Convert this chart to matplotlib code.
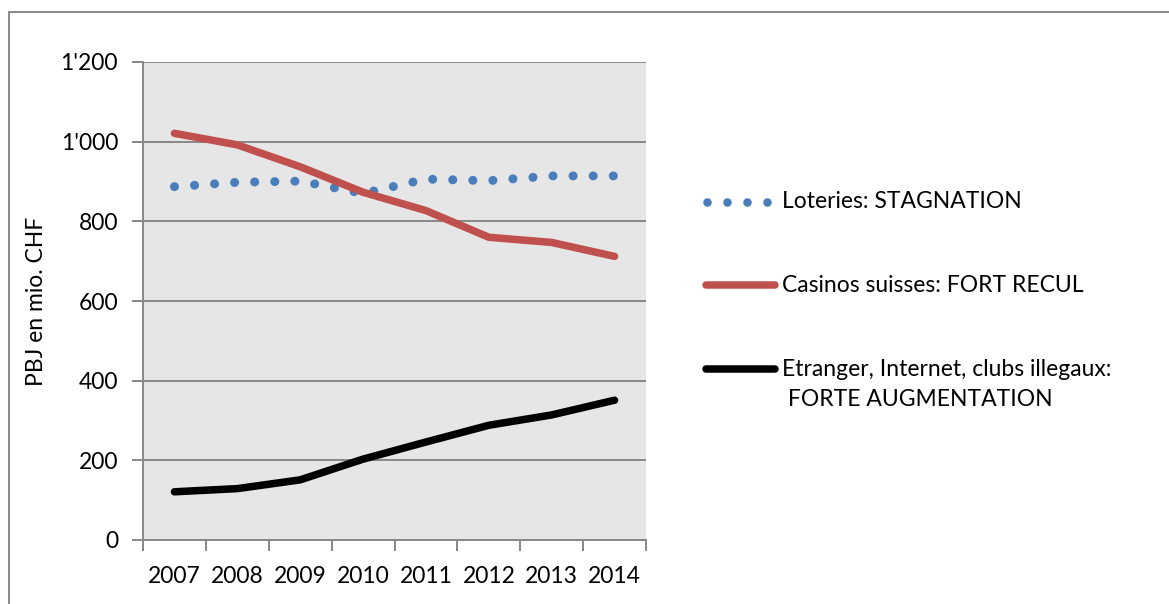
import matplotlib
matplotlib.use("Agg")
import matplotlib.pyplot as plt
from matplotlib.lines import Line2D

years = ["2007", "2008", "2009", "2010", "2011", "2012", "2013", "2014"]
loteries = [887, 898, 901, 870, 906, 902, 914, 914]
casinos = [1021, 992, 937, 873, 827, 760, 747, 712]
etranger = [121, 129, 151, 203, 246, 288, 314, 351]
y_ticks = [0, 200, 400, 600, 800, 1000, 1200]
y_tick_labels = ["0", "200", "400", "600", "800", "1'000", "1'200"]
labels = ["Loteries: STAGNATION", "Casinos suisses: FORT RECUL",
          "Etranger, Internet, clubs illegaux:\n FORTE AUGMENTATION"]
ylabel = "PBJ en mio. CHF"
colors = ["#4a7ebb", "#c0504d", "#000000"]

plt.rcParams['font.family'] = ['Lato', 'DejaVu Sans']
W, H, DPI = 1169, 604, 100
FS = 16.5
fig = plt.figure(figsize=(W / DPI, H / DPI), dpi=DPI)
px = 72 / DPI

ax = fig.add_axes([143 / W, 1 - 540 / H, 503 / W, (540 - 62) / H])
ax.set_facecolor("#e6e6e6")
grid_c = "#8a8a8a"

x = list(range(len(years)))
ax.plot(x, loteries, color=colors[0], lw=9 * px, linestyle=(0, (0.01, 20 / 9)),
        dash_capstyle="round", zorder=3)
ax.plot(x, casinos, color=colors[1], lw=7.5 * px, solid_capstyle="round",
        solid_joinstyle="round", zorder=3)
ax.plot(x, etranger, color=colors[2], lw=7.5 * px, solid_capstyle="round",
        solid_joinstyle="round", zorder=3)

ax.set_xlim(-0.5, len(years) - 0.5)
ax.set_ylim(0, 1200)
ax.set_yticks(y_ticks)
ax.set_yticklabels(y_tick_labels)
ax.yaxis.grid(True, color=grid_c, lw=2 * px)
ax.set_axisbelow(True)

ax.set_xticks(x)
ax.set_xticklabels(years)
ax.set_xticks([i - 0.5 for i in range(len(years) + 1)], minor=True)
ax.tick_params(axis="x", which="major", length=0, pad=19, labelsize=FS)
ax.tick_params(axis="x", which="minor", length=8, width=2 * px, color=grid_c)
ax.tick_params(axis="y", length=8, width=2 * px, color=grid_c, pad=10, labelsize=FS)

for s in ["top", "right"]:
    ax.spines[s].set_visible(False)
for s in ["left", "bottom"]:
    ax.spines[s].set_color(grid_c)
    ax.spines[s].set_linewidth(2 * px)

ax.set_ylabel(ylabel, fontsize=FS, labelpad=10)

# legend drawn in figure pixel coordinates
def fx(v):
    return v / W

def fy(v):
    return 1 - v / H

row_y = [202, 285, 369]
fig.add_artist(Line2D([fx(v) for v in (707, 727, 747, 767)], [fy(row_y[0])] * 4,
                      transform=fig.transFigure, linestyle="none", marker="o",
                      ms=8.5 * px, color=colors[0], mew=0))
for i in (1, 2):
    fig.add_artist(Line2D([fx(706), fx(775)], [fy(row_y[i])] * 2,
                          transform=fig.transFigure, color=colors[i], lw=7.5 * px,
                          solid_capstyle="round"))
for i, lab in enumerate(labels):
    for j, part in enumerate(lab.split("\n")):
        fig.text(fx(782), fy(row_y[i] + 31 * j), part, fontsize=FS,
                 ha="left", va="center")

# outer border (top and left only visible)
fig.add_artist(Line2D([fx(8.7), 1.0], [fy(11.5), fy(11.5)],
                      transform=fig.transFigure, color="#8c8c8c", lw=2 * px))
fig.add_artist(Line2D([fx(8.7), fx(8.7)], [0, fy(11.5)],
                      transform=fig.transFigure, color="#8c8c8c", lw=2 * px))

fig.savefig("out.png", dpi=DPI)
